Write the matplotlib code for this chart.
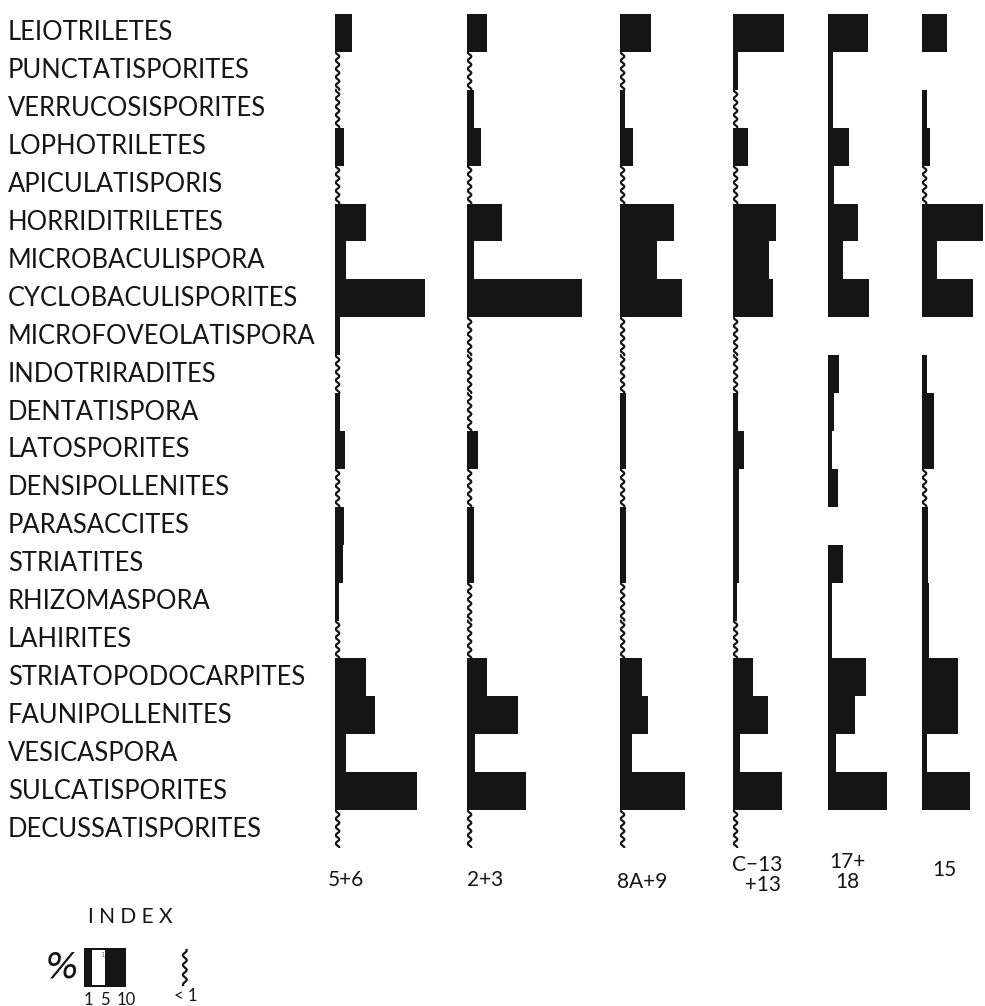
import numpy as np
import matplotlib
matplotlib.use("Agg")
import matplotlib.pyplot as plt
from matplotlib.patches import Rectangle

# TR = present but below 1 % (drawn as a wavy line), nan = absent
TR = 0.5
NA = np.nan

taxa = [
    "LEIOTRILETES", "PUNCTATISPORITES", "VERRUCOSISPORITES", "LOPHOTRILETES",
    "APICULATISPORIS", "HORRIDITRILETES", "MICROBACULISPORA",
    "CYCLOBACULISPORITES", "MICROFOVEOLATISPORA", "INDOTRIRADITES",
    "DENTATISPORA", "LATOSPORITES", "DENSIPOLLENITES", "PARASACCITES",
    "STRIATITES", "RHIZOMASPORA", "LAHIRITES", "STRIATOPODOCARPITES",
    "FAUNIPOLLENITES", "VESICASPORA", "SULCATISPORITES", "DECUSSATISPORITES",
]

samples = ["5+6", "2+3", "8A+9", "C\u221213\n  +13", "17+\n18", "15"]

s_5_6 = [4.0, TR, TR, 2.1, TR, 7.4, 2.6, 21.4, 1.2, TR, 1.2,
         2.4, TR, 2.1, 1.9, 1.0, TR, 7.4, 9.5, 2.6, 19.5, TR]
s_2_3 = [4.8, TR, 1.7, 3.3, TR, 8.3, 1.7, 27.4, TR, TR, TR,
         2.6, TR, 1.7, 1.7, TR, TR, 4.8, 12.1, 1.9, 14.0, TR]
s_8a_9 = [7.4, TR, 1.2, 3.1, TR, 12.9, 8.8, 14.8, TR, TR, 1.5,
          1.5, TR, 1.4, 1.4, TR, TR, 5.2, 6.7, 2.9, 15.5, TR]
s_c13 = [12.1, 1.2, TR, 3.6, TR, 10.2, 8.6, 9.5, TR, TR, 1.2,
         2.6, 1.5, 1.5, 1.5, 1.0, TR, 4.8, 8.3, 1.7, 11.7, TR]
s_17_18 = [9.5, 1.2, 1.2, 5.0, 1.4, 7.1, 3.6, 9.8, NA, 2.6, 1.4,
           1.0, 2.4, NA, 3.6, 1.0, 1.0, 9.0, 6.4, 1.9, 14.0, NA]
s_15 = [6.0, NA, 1.2, 1.9, TR, 14.5, 3.6, 12.1, NA, 1.2, 2.9,
        2.9, TR, 1.4, 1.4, 1.7, 1.7, 8.6, 8.6, 1.2, 11.4, NA]

columns = [s_5_6, s_2_3, s_8a_9, s_c13, s_17_18, s_15]

W, H = 985, 1006
PX_PER_PCT = 4.2
INK = "#151515"
FONT = "Lato"

fig = plt.figure(figsize=(W / 100, H / 100), dpi=100)
fig.patch.set_facecolor("white")

# chart block in pixels
top_px, bot_px = 14, 848
col_left_px = [335, 467, 620, 733, 828, 922]
col_w_px = 160

n = len(taxa)
rows = np.arange(n)
row_h_px = (bot_px - top_px) / n

for left, vals in zip(col_left_px, columns):
    ax = fig.add_axes([left / W, 1 - bot_px / H, col_w_px / W, (bot_px - top_px) / H])
    ax.set_xlim(0, col_w_px / PX_PER_PCT)
    ax.set_ylim(n - 0.5, -0.5)
    ax.axis("off")
    vals = np.array(vals, dtype=float)
    solid = np.where(vals >= 1, vals, 0)
    ax.barh(rows, solid, height=1.0, left=0, color=INK, linewidth=0)
    for i, v in enumerate(vals):
        if v == TR:
            yy = np.linspace(i - 0.5, i + 0.5, 120)
            xx = 0.6 + 0.42 * np.sin(2 * np.pi * 4.6 * (yy - i))
            ax.plot(xx, yy, color=INK, lw=1.6, solid_capstyle="round")

# taxon labels
for i, name in enumerate(taxa):
    y = top_px + row_h_px * (i + 0.5)
    fig.text(8 / W, 1 - y / H, name, ha="left", va="center",
             fontsize=18.4, family=FONT, color=INK)

# sample labels under the columns
label_pos = [(346, 880), (485, 880), (642, 882), (757, 875), (847, 872), (944, 870)]
for (x, y), s in zip(label_pos, samples):
    fig.text(x / W, 1 - y / H, s, ha="center", va="center", fontsize=15,
             family=FONT, color=INK, linespacing=1.05)

# index (key)
fig.text(130 / W, 1 - 917 / H, "I N D E X", ha="center", va="center",
         fontsize=15, family=FONT, color=INK)
fig.text(62 / W, 1 - 968 / H, "%", ha="center", va="center", fontsize=26,
         family="DejaVu Sans", style="italic", color=INK)

kax = fig.add_axes([84 / W, 1 - 987 / H, 60 / W, 39 / H])
kax.set_xlim(0, 60 / PX_PER_PCT)
kax.set_ylim(0, 1)
kax.axis("off")
kax.barh([0.5], [10], height=1.0, left=0, color=INK, linewidth=0)
kax.add_patch(Rectangle((1.9, 0.06), 3.2, 0.88, color="white", lw=0))
kax.text(4.3, 0.82, "1", fontsize=5, ha="center", va="center", color="#777777")
for t in [1, 5, 10]:
    kax.text(t, -0.33, str(t), ha="center", va="center", fontsize=12,
             family=FONT, color=INK)

wax = fig.add_axes([176 / W, 1 - 987 / H, 20 / W, 39 / H])
wax.set_xlim(0, 20 / PX_PER_PCT)
wax.set_ylim(1, 0)
wax.axis("off")
yy = np.linspace(0.05, 0.95, 100)
wax.plot(2.1 + 0.45 * np.sin(2 * np.pi * 4 * yy), yy, color=INK, lw=1.6)
fig.text(186 / W, 1 - 996 / H, "< 1", ha="center", va="center", fontsize=12,
         family=FONT, color=INK)

fig.savefig("out.png", dpi=100, facecolor="white")
